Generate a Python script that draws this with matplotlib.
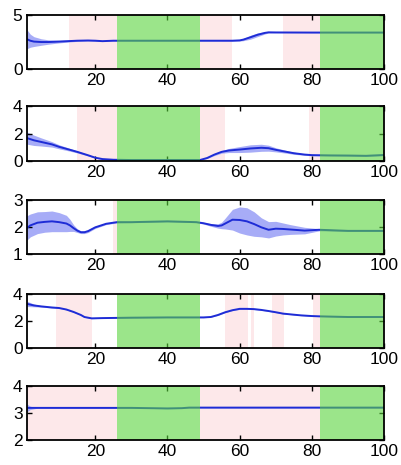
import matplotlib
matplotlib.use("Agg")
import matplotlib.pyplot as plt

plt.rcParams["font.family"] = ["Liberation Sans", "DejaVu Sans"]

# sample positions, means and band half-widths
x1 = [1, 2, 3, 5, 7, 10, 13, 15, 18, 20, 22, 25, 30, 40, 50, 58, 60, 61, 63, 65, 67, 68, 70, 80, 100]
y1 = [2.75, 2.6, 2.52, 2.48, 2.48, 2.52, 2.57, 2.6, 2.62, 2.6, 2.56, 2.6, 2.6, 2.6, 2.6, 2.6, 2.63, 2.7, 2.92, 3.15, 3.32, 3.37, 3.36, 3.35, 3.35]
e1 = [0.9, 0.6, 0.45, 0.3, 0.2, 0.12, 0.08, 0.06, 0.04, 0.04, 0.03, 0.02, 0.02, 0.02, 0.02, 0.03, 0.06, 0.1, 0.18, 0.17, 0.1, 0.06, 0.03, 0.02, 0.02]

x2 = [1, 3, 5, 8, 10, 13, 15, 18, 20, 22, 25, 30, 49, 51, 53, 55, 57, 60, 63, 66, 68, 70, 73, 75, 78, 80, 85, 90, 95, 100]
y2 = [1.67, 1.5, 1.38, 1.2, 1.02, 0.8, 0.65, 0.4, 0.22, 0.12, 0.07, 0.05, 0.05, 0.2, 0.45, 0.65, 0.75, 0.82, 0.9, 0.95, 0.92, 0.8, 0.65, 0.55, 0.45, 0.41, 0.39, 0.38, 0.36, 0.42]
e2 = [0.45, 0.38, 0.3, 0.2, 0.15, 0.1, 0.08, 0.05, 0.04, 0.03, 0.02, 0.02, 0.02, 0.04, 0.07, 0.1, 0.15, 0.22, 0.27, 0.26, 0.22, 0.15, 0.1, 0.08, 0.05, 0.05, 0.04, 0.04, 0.04, 0.05]

x3 = [1, 2, 4, 6, 8, 10, 12, 13, 14, 15, 16, 17, 18, 20, 23, 26, 30, 40, 48, 50, 52, 54, 55, 56, 58, 60, 62, 64, 66, 68, 70, 72, 74, 78, 82, 90, 100]
y3 = [1.95, 2.05, 2.15, 2.18, 2.2, 2.17, 2.12, 2.05, 1.95, 1.86, 1.8, 1.8, 1.84, 1.98, 2.11, 2.17, 2.17, 2.2, 2.17, 2.13, 2.07, 2.03, 2.05, 2.12, 2.26, 2.25, 2.2, 2.1, 1.98, 1.89, 1.93, 1.92, 1.9, 1.86, 1.89, 1.85, 1.85]
e3 = [0.45, 0.42, 0.4, 0.38, 0.38, 0.35, 0.3, 0.22, 0.12, 0.07, 0.05, 0.05, 0.05, 0.04, 0.03, 0.03, 0.02, 0.02, 0.02, 0.03, 0.05, 0.08, 0.12, 0.2, 0.38, 0.48, 0.5, 0.45, 0.35, 0.3, 0.27, 0.22, 0.18, 0.12, 0.04, 0.02, 0.02]

x4 = [1, 3, 5, 8, 10, 12, 14, 16, 17, 19, 22, 30, 40, 50, 52, 54, 56, 58, 60, 62, 64, 66, 68, 70, 72, 75, 77, 80, 82, 90, 100]
y4 = [3.27, 3.15, 3.08, 3.0, 2.96, 2.85, 2.67, 2.45, 2.3, 2.2, 2.22, 2.25, 2.27, 2.27, 2.3, 2.45, 2.65, 2.8, 2.9, 2.9, 2.88, 2.82, 2.74, 2.65, 2.55, 2.47, 2.42, 2.37, 2.35, 2.3, 2.3]
e4 = [0.2, 0.1, 0.05, 0.04, 0.03, 0.03, 0.03, 0.03, 0.03, 0.02, 0.02, 0.02, 0.02, 0.02, 0.02, 0.03, 0.03, 0.03, 0.04, 0.04, 0.04, 0.03, 0.03, 0.03, 0.03, 0.02, 0.02, 0.02, 0.02, 0.02, 0.02]

x5 = [1, 2, 4, 30, 40, 44, 46, 50, 100]
y5 = [3.18, 3.18, 3.18, 3.18, 3.16, 3.17, 3.19, 3.19, 3.19]
e5 = [0.15, 0.06, 0.01, 0.01, 0.01, 0.01, 0.01, 0.01, 0.01]

green = [(26, 49), (82.3, 100)]
pink = [
    [(12.8, 26), (49, 58), (72, 82.3)],
    [(15, 26), (49, 56), (79.3, 82.3)],
    [(25, 26)],
    [(9, 19), (56, 62.2), (63, 64), (69, 72.2), (80.3, 82.3)],
    [(1, 26), (49, 82.3)],
]
ylims = [(0, 5), (0, 4), (1, 3), (0, 4), (2, 4)]
yticks = [[0, 5], [0, 2, 4], [1, 2, 3], [0, 2, 4], [2, 3, 4]]
series = [(x1, y1, e1), (x2, y2, e2), (x3, y3, e3), (x4, y4, e4), (x5, y5, e5)]

fig = plt.figure(figsize=(4.02, 4.65), dpi=100)
bottoms = [0.8516, 0.6544, 0.4538, 0.251, 0.0538]

for i in range(5):
    ax = fig.add_axes([0.0664, bottoms[i], 0.889, 0.117])
    xp, yp, ep = series[i]
    lo = [a - b for a, b in zip(yp, ep)]
    hi = [a + b for a, b in zip(yp, ep)]
    for a, b in pink[i]:
        ax.axvspan(a, b, color="#fde8ea", lw=0, zorder=0)
    ax.fill_between(xp, lo, hi, color="#a7acf7", lw=0, zorder=1)
    ax.plot(xp, yp, color="#1e2cd6", lw=1.4, zorder=2, solid_joinstyle="round")
    for a, b in green:
        ax.axvspan(a, b, color=(0.35, 0.83, 0.235), alpha=0.6, lw=0, zorder=3)
    ax.set_xlim(1, 100)
    ax.set_ylim(*ylims[i])
    ax.set_xticks([20, 40, 60, 80, 100])
    ax.set_yticks(yticks[i])
    ax.tick_params(direction="in", top=True, right=True, length=3.5, width=1,
                   labelsize=12.5, pad=3)
    for s in ax.spines.values():
        s.set_linewidth(1.3)
        s.set_zorder(5)

plt.savefig("out.png", dpi=100)
plt.close()
